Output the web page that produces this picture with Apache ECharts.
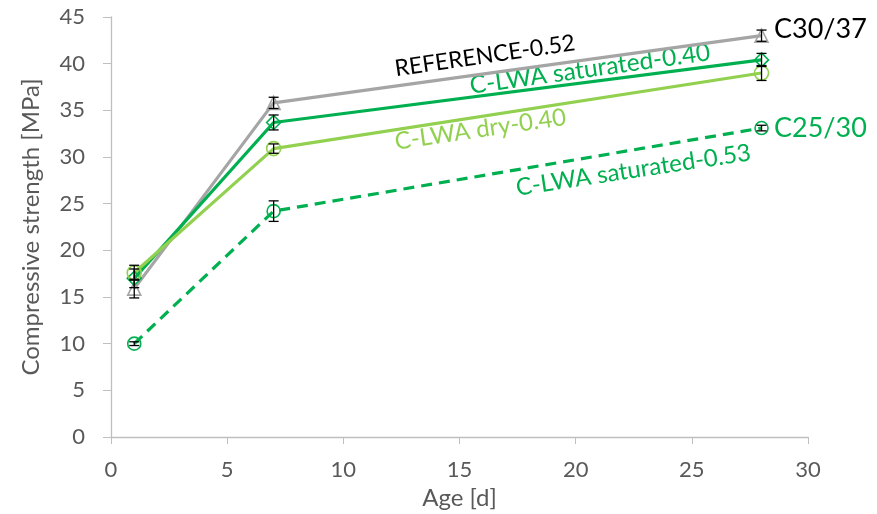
<!DOCTYPE html>
<html><head><meta charset="utf-8">
<script src="https://cdn.jsdelivr.net/npm/echarts@6/dist/echarts.min.js"></script>
<style>html,body{margin:0;padding:0;background:#fff}#c{width:877px;height:514px}</style>
</head><body><div id="c"></div>
<script>
const ages = [1, 7, 28];
const refVals = [15.9, 35.8, 43.0];
const refErr = [1.0, 0.6, 0.6];
const sat40Vals = [17.0, 33.7, 40.4];
const sat40Err = [1.0, 0.8, 0.7];
const dry40Vals = [17.6, 30.9, 39.0];
const dry40Err = [0.8, 0.5, 0.8];
const sat53Vals = [10.0, 24.2, 33.1];
const sat53Err = [0.2, 1.1, 0.3];
const xTicks = [0, 5, 10, 15, 20, 25, 30];
const yTicks = [0, 5, 10, 15, 20, 25, 30, 35, 40, 45];

const FONT = 'Lato';
const C_REF = '#A5A5A5', C_SAT = '#00B050', C_DRY = '#92D050';

function pts(v){ return ages.map((a,i)=>[a, v[i]]); }
function errData(v,e){ return ages.map((a,i)=>[a, v[i]-e[i], v[i]+e[i]]); }

function errSeries(v,e){
  return {
    type:'custom', z:10, silent:true,
    renderItem:function(params, api){
      const x = api.value(0);
      const lo = api.coord([x, api.value(1)]);
      const hi = api.coord([x, api.value(2)]);
      const w = 5;
      const st = {stroke:'#000', lineWidth:1.3};
      return {type:'group', children:[
        {type:'line', shape:{x1:lo[0],y1:lo[1],x2:hi[0],y2:hi[1]}, style:st},
        {type:'line', shape:{x1:lo[0]-w,y1:lo[1],x2:lo[0]+w,y2:lo[1]}, style:st},
        {type:'line', shape:{x1:hi[0]-w,y1:hi[1],x2:hi[0]+w,y2:hi[1]}, style:st}
      ]};
    },
    data: errData(v,e)
  };
}

function lineSeries(name, v, color, symbol, size, dashed){
  return {
    name, type:'line', data:pts(v), symbol, symbolSize:size, z:5,
    lineStyle:{color, width:3.2, type: dashed ? [11,7] : 'solid'},
    itemStyle:{color:'rgba(255,255,255,0)', borderColor:color, borderWidth:1.6},
    emphasis:{disabled:true}
  };
}

const chart = echarts.init(document.getElementById('c'));
chart.setOption({
  animation:false,
  grid:{left:111, right:69, top:17, bottom:77, containLabel:false, outerBoundsMode:'none'},
  xAxis:{
    type:'value', min:0, max:30, interval:5,
    name:'Age [d]', nameLocation:'middle', nameGap:48,
    nameTextStyle:{fontFamily:FONT, fontSize:24, color:'#595959'},
    axisLine:{lineStyle:{color:'#BFBFBF', width:1.3}},
    axisTick:{show:true, length:7, lineStyle:{color:'#BFBFBF'}},
    axisLabel:{fontFamily:FONT, fontSize:22, color:'#595959', margin:22,
      formatter:function(v){ return xTicks.indexOf(v)>=0 ? String(v) : ''; }},
    splitLine:{show:false}
  },
  yAxis:{
    type:'value', min:0, max:45, interval:5,
    name:'Compressive strength [MPa]', nameLocation:'middle', nameGap:68,
    nameTextStyle:{fontFamily:FONT, fontSize:24, color:'#595959'},
    axisLine:{show:true, lineStyle:{color:'#BFBFBF', width:1.3}},
    axisTick:{show:true, length:8, lineStyle:{color:'#BFBFBF'}},
    axisLabel:{fontFamily:FONT, fontSize:22, color:'#595959', margin:26,
      formatter:function(v){ return yTicks.indexOf(v)>=0 ? String(v) : ''; }},
    splitLine:{show:false}
  },
  series:[
    lineSeries('REFERENCE-0.52', refVals, C_REF, 'triangle', 13, false),
    lineSeries('C-LWA saturated-0.40', sat40Vals, C_SAT, 'diamond', 14, false),
    lineSeries('C-LWA dry-0.40', dry40Vals, C_DRY, 'circle', 14, false),
    lineSeries('C-LWA saturated-0.53', sat53Vals, C_SAT, 'circle', 13, true),
    errSeries(refVals, refErr),
    errSeries(sat40Vals, sat40Err),
    errSeries(dry40Vals, dry40Err),
    errSeries(sat53Vals, sat53Err)
  ],
  graphic:[
    {type:'text', x:395, y:69, rotation:0.145, style:{text:'REFERENCE-0.52', fill:'#000', font:'23px '+FONT, textVerticalAlign:'middle'}},
    {type:'text', x:470, y:86, rotation:0.14, style:{text:'C-LWA saturated-0.40', fill:C_SAT, font:'24.5px '+FONT, textVerticalAlign:'middle'}},
    {type:'text', x:395, y:142, rotation:0.145, style:{text:'C-LWA dry-0.40', fill:C_DRY, font:'24px '+FONT, textVerticalAlign:'middle'}},
    {type:'text', x:516, y:188, rotation:0.15, style:{text:'C-LWA saturated-0.53', fill:C_SAT, font:'24px '+FONT, textVerticalAlign:'middle'}},
    {type:'text', x:774, y:29, style:{text:'C30/37', fill:'#000', font:'27px '+FONT, textVerticalAlign:'middle'}},
    {type:'text', x:774, y:128, style:{text:'C25/30', fill:C_SAT, font:'27px '+FONT, textVerticalAlign:'middle'}}
  ]
});
</script></body></html>
